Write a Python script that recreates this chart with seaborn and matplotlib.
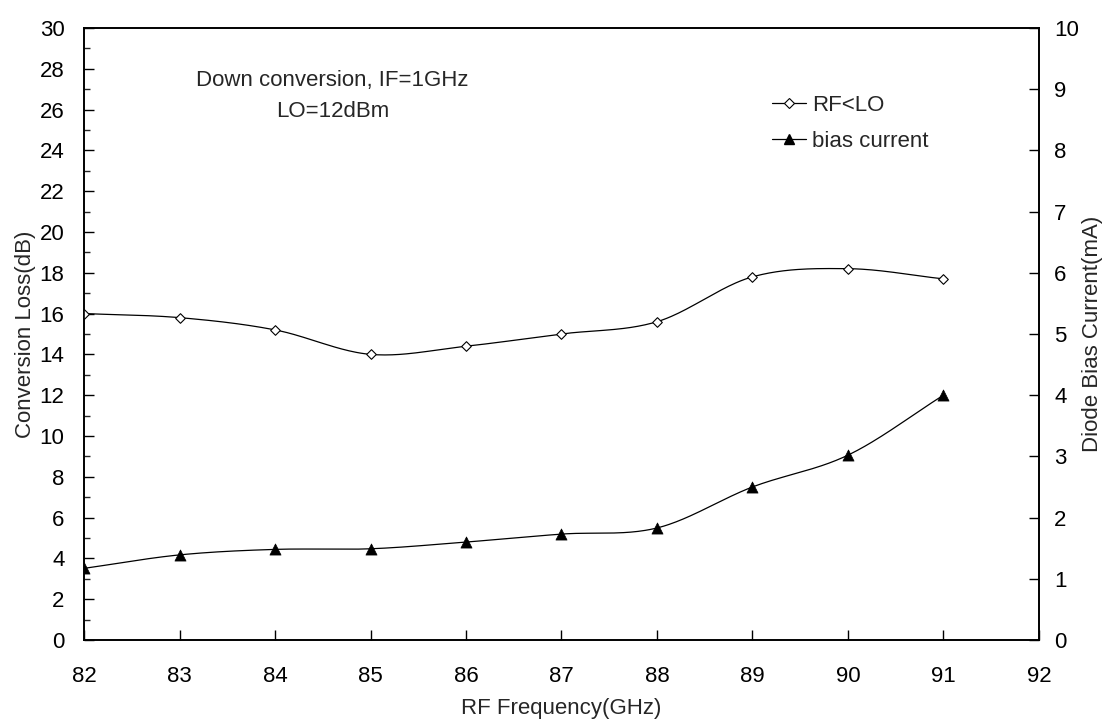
import numpy as np
import pandas as pd
import matplotlib
matplotlib.use("Agg")
import matplotlib.pyplot as plt
from matplotlib.lines import Line2D
from matplotlib.ticker import MultipleLocator
import seaborn as sns

# Measured data
freq_ghz = [82, 83, 84, 85, 86, 87, 88, 89, 90, 91]
conv_loss_db = [16.0, 15.8, 15.2, 14.0, 14.4, 15.0, 15.6, 17.8, 18.2, 17.7]
bias_ma = [1.17, 1.39, 1.48, 1.49, 1.60, 1.73, 1.83, 2.50, 3.02, 4.00]

series_names = ["RF<LO", "bias current"]
x_label = "RF Frequency(GHz)"
y_label = "Conversion Loss(dB)"
y2_label = "Diode Bias Current(mA)"
note_lines = ["Down conversion, IF=1GHz", "LO=12dBm"]

FS = 16


def smooth(x, y, n=40):
    """Catmull-Rom spline through the points (smoothed-line style)."""
    x = np.asarray(x, float)
    y = np.asarray(y, float)
    px = np.concatenate([[2 * x[0] - x[1]], x, [2 * x[-1] - x[-2]]])
    py = np.concatenate([[2 * y[0] - y[1]], y, [2 * y[-1] - y[-2]]])
    xs, ys = [], []
    t = np.linspace(0, 1, n, endpoint=False)
    for i in range(1, len(px) - 2):
        for p, out in ((px[i - 1:i + 3], xs), (py[i - 1:i + 3], ys)):
            a, b, c, d = p
            out.extend(0.5 * ((2 * b) + (-a + c) * t
                              + (2 * a - 5 * b + 4 * c - d) * t ** 2
                              + (-a + 3 * b - 3 * c + d) * t ** 3))
    xs.append(x[-1])
    ys.append(y[-1])
    return pd.DataFrame({"x": xs, "y": ys})


sns.set_theme(style="ticks")
plt.rcParams["font.family"] = ["Liberation Sans", "DejaVu Sans"]
plt.rcParams["font.size"] = FS

fig = plt.figure(figsize=(11.04, 7.26), dpi=100)
ax = fig.add_axes([0.0761, 0.1185, 0.865, 0.843])
ax2 = ax.twinx()

pts = pd.DataFrame({"freq": freq_ghz, "loss": conv_loss_db, "bias": bias_ma})

loss_curve = smooth(freq_ghz, conv_loss_db)
bias_curve = smooth(freq_ghz, bias_ma)

sns.lineplot(data=loss_curve, x="x", y="y", ax=ax, color="black", lw=0.9,
             sort=False, estimator=None)
sns.scatterplot(data=pts, x="freq", y="loss", ax=ax, marker="D", s=24,
                facecolor="white", edgecolor="black", linewidth=0.8, zorder=4)

sns.lineplot(data=bias_curve, x="x", y="y", ax=ax2, color="black", lw=0.9,
             sort=False, estimator=None)
sns.scatterplot(data=pts, x="freq", y="bias", ax=ax2, marker="^", s=64,
                color="black", edgecolor="black", linewidth=0.5, zorder=4)

ax.set_xlim(82, 92)
ax.set_ylim(0, 30)
ax2.set_ylim(0, 10)

ax.xaxis.set_major_locator(MultipleLocator(1))
ax.yaxis.set_major_locator(MultipleLocator(2))
ax.yaxis.set_minor_locator(MultipleLocator(1))
ax2.yaxis.set_major_locator(MultipleLocator(1))

ax.tick_params(axis="both", which="major", direction="in", length=7,
               width=1, labelsize=FS, colors="black")
ax.tick_params(axis="y", which="major", pad=14)
ax.tick_params(axis="y", which="minor", direction="in", length=4, width=1)
ax.tick_params(axis="x", which="major", pad=19)
ax2.tick_params(axis="y", which="major", direction="in", length=7, width=1,
                labelsize=FS, pad=11, colors="black")

for a in (ax, ax2):
    for s in a.spines.values():
        s.set_linewidth(1.2)
        s.set_color("black")

ax.set_xlabel(x_label, fontsize=FS, labelpad=8)
ax.set_ylabel(y_label, fontsize=FS, labelpad=3)
ax2.set_ylabel(y2_label, fontsize=FS, labelpad=2)

ax.text(0.26, 0.914, note_lines[0], transform=ax.transAxes, ha="center",
        va="center", fontsize=FS)
ax.text(0.26, 0.863, note_lines[1], transform=ax.transAxes, ha="center",
        va="center", fontsize=FS)

handles = [
    Line2D([], [], color="black", lw=0.9, marker="D", markersize=4.7,
           markerfacecolor="white", markeredgecolor="black", markeredgewidth=0.8),
    Line2D([], [], color="black", lw=0.9, marker="^", markersize=7.5,
           markerfacecolor="black", markeredgecolor="black"),
]
ax.legend(handles, series_names, loc="upper left",
          bbox_to_anchor=(0.7115, 0.905), frameon=False, fontsize=FS,
          handlelength=1.5, handletextpad=0.3, labelspacing=0.68,
          borderaxespad=0)

fig.savefig("out.png", dpi=100)
